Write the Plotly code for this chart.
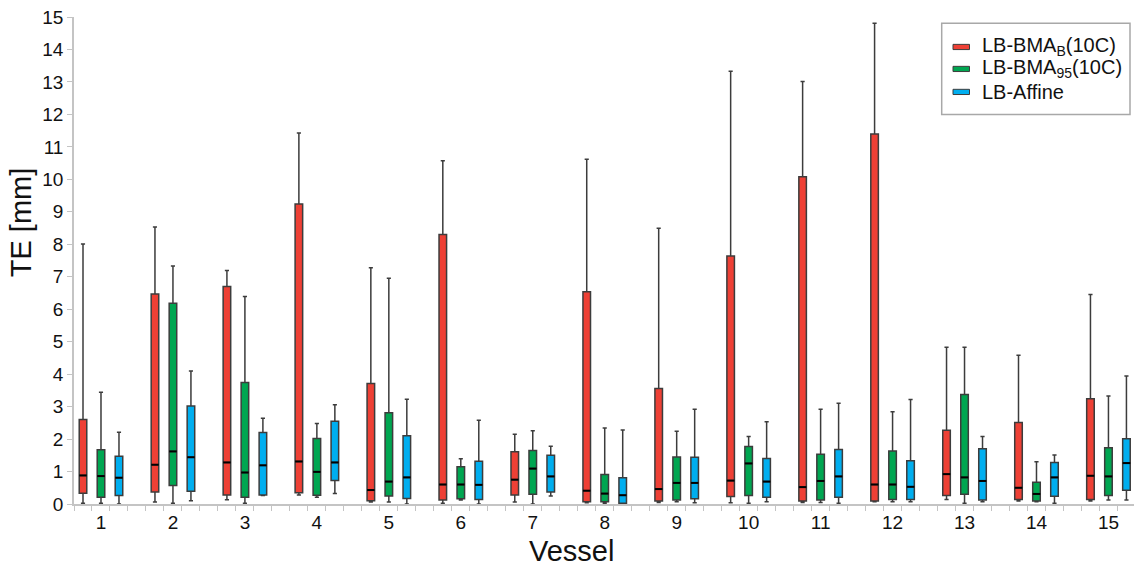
import plotly.graph_objects as go

# Vessel labels on the x axis
vessels = [str(i) for i in range(1, 16)]

# LB-BMA_B(10C): box-plot statistics per vessel (TE in mm)
bmab_low = [0.02, 0.06, 0.13, 0.28, 0.06, 0.02, 0.06, 0.04, 0.05, 0.04, 0.05, 0.07, 0.14, 0.09, 0.09]
bmab_q1 = [0.33, 0.37, 0.28, 0.35, 0.10, 0.12, 0.28, 0.07, 0.09, 0.23, 0.09, 0.09, 0.26, 0.14, 0.14]
bmab_med = [0.88, 1.21, 1.28, 1.31, 0.43, 0.60, 0.75, 0.41, 0.46, 0.72, 0.52, 0.60, 0.92, 0.50, 0.87]
bmab_q3 = [2.60, 6.47, 6.70, 9.24, 3.71, 8.30, 1.61, 6.54, 3.56, 7.64, 10.08, 11.40, 2.27, 2.51, 3.24]
bmab_high = [8.01, 8.53, 7.19, 11.43, 7.28, 10.57, 2.15, 10.62, 8.49, 13.33, 13.01, 14.81, 4.83, 4.58, 6.45]

# LB-BMA_95(10C)
bma95_low = [0.02, 0.02, 0.02, 0.21, 0.06, 0.12, 0.00, 0.02, 0.07, 0.02, 0.05, 0.07, 0.02, 0.07, 0.12]
bma95_q1 = [0.21, 0.57, 0.21, 0.27, 0.25, 0.16, 0.30, 0.07, 0.12, 0.26, 0.12, 0.14, 0.30, 0.09, 0.26]
bma95_med = [0.86, 1.62, 0.97, 0.99, 0.69, 0.60, 1.09, 0.32, 0.65, 1.25, 0.71, 0.60, 0.82, 0.31, 0.85]
bma95_q3 = [1.67, 6.18, 3.74, 2.02, 2.81, 1.15, 1.65, 0.91, 1.45, 1.77, 1.53, 1.63, 3.37, 0.67, 1.73]
bma95_high = [3.44, 7.33, 6.39, 2.48, 6.95, 1.39, 2.26, 2.34, 2.24, 2.08, 2.92, 2.84, 4.83, 1.30, 3.33]

# LB-Affine
affine_low = [0.00, 0.10, 0.26, 0.32, 0.00, 0.00, 0.25, 0.00, 0.04, 0.07, 0.02, 0.07, 0.07, 0.02, 0.12]
affine_q1 = [0.26, 0.39, 0.28, 0.72, 0.17, 0.14, 0.37, 0.02, 0.16, 0.21, 0.21, 0.14, 0.12, 0.24, 0.42]
affine_med = [0.81, 1.44, 1.19, 1.28, 0.82, 0.59, 0.85, 0.27, 0.65, 0.69, 0.85, 0.53, 0.71, 0.82, 1.26]
affine_q3 = [1.47, 3.02, 2.20, 2.55, 2.10, 1.32, 1.50, 0.81, 1.44, 1.40, 1.68, 1.33, 1.70, 1.28, 2.01]
affine_high = [2.21, 4.10, 2.64, 3.06, 3.23, 2.58, 1.78, 2.28, 2.92, 2.53, 3.10, 3.22, 2.08, 1.51, 3.94]

series = [
    ("LB-BMA<sub>B</sub>(10C)", "#EE4035", bmab_low, bmab_q1, bmab_med, bmab_q3, bmab_high),
    ("LB-BMA<sub>95</sub>(10C)", "#00A651", bma95_low, bma95_q1, bma95_med, bma95_q3, bma95_high),
    ("LB-Affine", "#00AEEF", affine_low, affine_q1, affine_med, affine_q3, affine_high),
]

# Each vessel takes four slots: three boxes followed by an empty gap slot
SLOTS = 4
BOX_W = 0.42
n = len(vessels)

# Canvas geometry (pixels) used to place the legend and titles
W, H = 1134, 567
ML, MR, MT, MB = 74, 0, 16.5, 63
PW, PH = W - ML - MR, H - MT - MB


def paper_x(px):
    return (px - ML) / PW


def paper_y(py):
    return (H - MB - py) / PH


fig = go.Figure()
for k, (name, color, lo, q1, med, q3, hi) in enumerate(series):
    pos = [SLOTS * i + k for i in range(n)]
    fig.add_trace(go.Box(
        x=pos, q1=q1, median=med, q3=q3, lowerfence=lo, upperfence=hi,
        orientation="v", name=name, fillcolor=color,
        line=dict(color="#3c3c3c", width=1.5),
        width=BOX_W, whiskerwidth=0.55, boxpoints=False,
        hoverinfo="skip", showlegend=False,
    ))
    # heavier black median bars on top of each box
    mx, my = [], []
    for p, m in zip(pos, med):
        mx += [p - BOX_W / 2, p + BOX_W / 2, None]
        my += [m, m, None]
    fig.add_trace(go.Scatter(
        x=mx, y=my, mode="lines", line=dict(color="black", width=2),
        hoverinfo="skip", showlegend=False,
    ))

axis_grey = "#c4c4c4"
font_family = "Liberation Sans, Arial, sans-serif"

shapes = []
annotations = []

# Legend frame, swatches and labels
shapes.append(dict(
    type="rect", xref="paper", yref="paper",
    x0=paper_x(941.7), x1=paper_x(1130), y0=paper_y(22.8), y1=paper_y(114),
    line=dict(color="#a8a8a8", width=1.5), fillcolor="white", layer="above",
))
row_y = [46.5, 68.5, 91.5]
for (name, color, *_), ry in zip(series, row_y):
    shapes.append(dict(
        type="rect", xref="paper", yref="paper",
        x0=paper_x(953), x1=paper_x(969.5), y0=paper_y(ry + 2.6), y1=paper_y(ry - 2.6),
        line=dict(color="#3c3c3c", width=1), fillcolor=color, layer="above",
    ))
    annotations.append(dict(
        text=name, xref="paper", yref="paper",
        x=paper_x(980), y=paper_y(ry), xanchor="left", yanchor="middle",
        showarrow=False, font=dict(size=20, family=font_family, color="#111111"),
    ))

# Axis titles
annotations.append(dict(
    text="TE [mm]", xref="paper", yref="paper",
    x=paper_x(21), y=paper_y(222), xanchor="center", yanchor="middle",
    textangle=-90, showarrow=False,
    font=dict(size=29, family=font_family, color="#111111"),
))
annotations.append(dict(
    text="Vessel", xref="paper", yref="paper",
    x=paper_x(571), y=paper_y(551), xanchor="center", yanchor="middle",
    showarrow=False, font=dict(size=29, family=font_family, color="#111111"),
))

fig.update_layout(
    width=W, height=H,
    margin=dict(l=ML, r=MR, t=MT, b=MB),
    paper_bgcolor="white", plot_bgcolor="white",
    font=dict(family=font_family, color="#111111"),
    showlegend=False,
    shapes=shapes,
    annotations=annotations,
    xaxis=dict(
        range=[-0.5, SLOTS * n - 1.58],
        tickmode="array",
        tickvals=[SLOTS * i + 1 for i in range(n)],
        ticktext=vessels,
        ticks="",
        tickfont=dict(size=19),
        minor=dict(
            tickmode="array",
            tickvals=[j - 0.5 for j in range(SLOTS * n)],
            ticks="outside", ticklen=5, tickwidth=1, tickcolor=axis_grey,
            showgrid=False,
        ),
        showline=True, linecolor=axis_grey, linewidth=1.5,
        showgrid=False, zeroline=False,
    ),
    yaxis=dict(
        range=[0, 15], tickmode="linear", tick0=0, dtick=1,
        ticks="outside", ticklen=5, tickwidth=1, tickcolor=axis_grey,
        tickfont=dict(size=19),
        showline=True, linecolor=axis_grey, linewidth=1.5,
        showgrid=False, zeroline=False,
    ),
)

fig.write_html("out.html")
